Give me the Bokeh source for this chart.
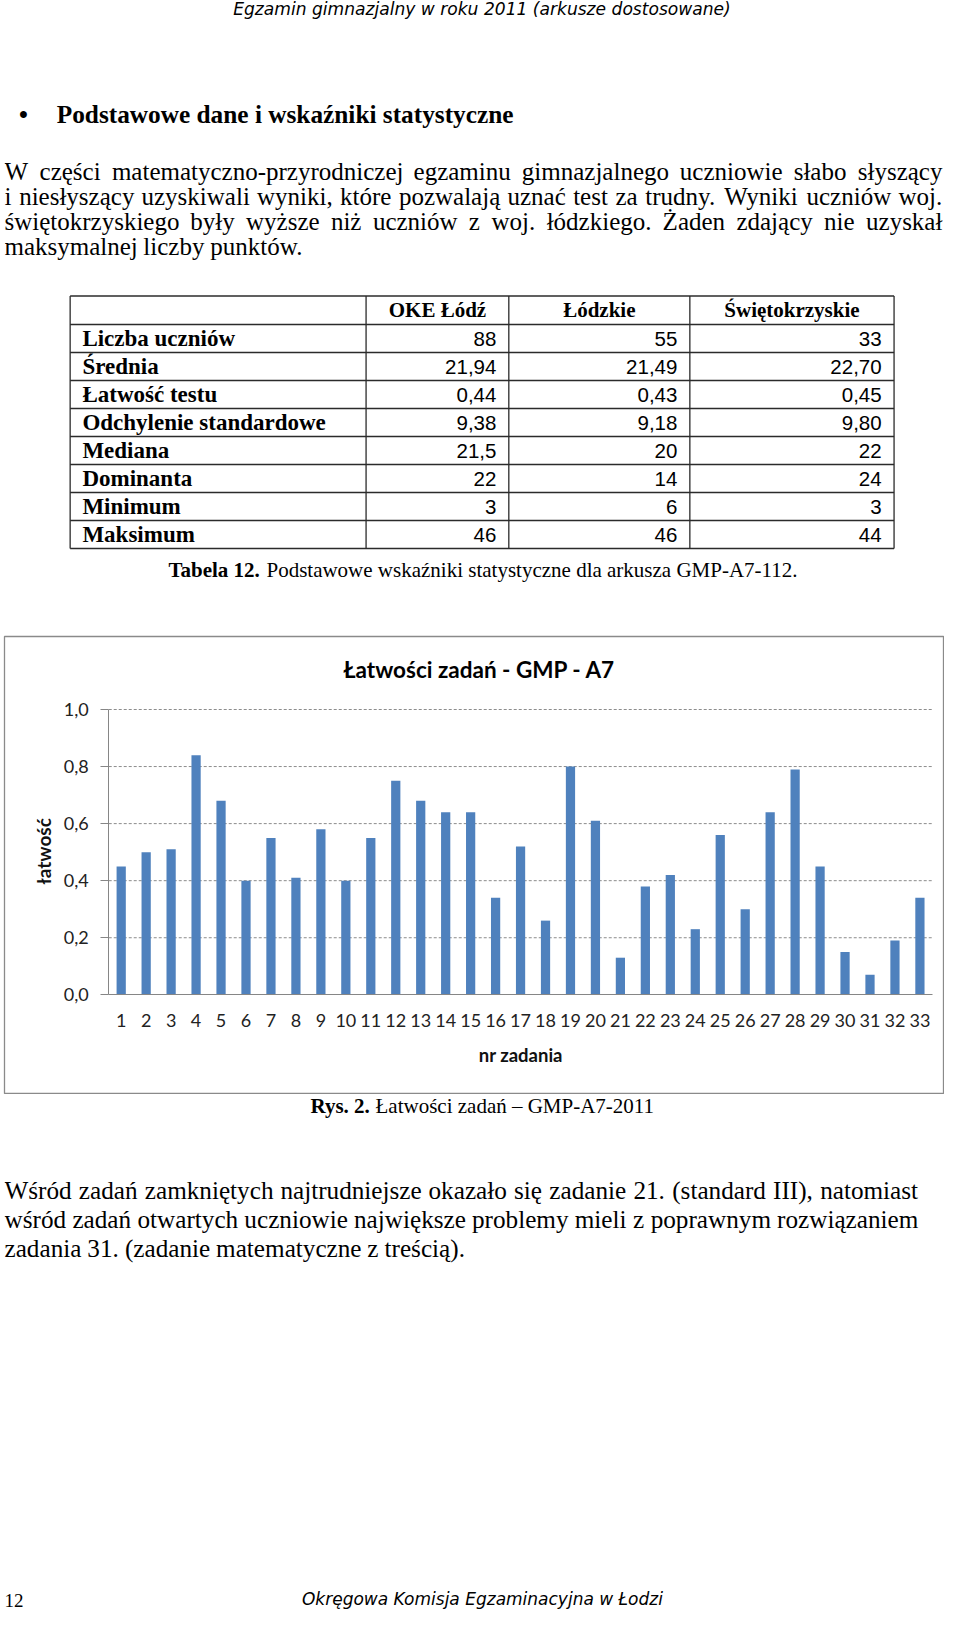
import math
from bokeh.plotting import figure
from bokeh.layouts import column
from bokeh.models import Range1d, LinearAxis, FixedTicker, CustomJSTickFormatter, Label
from bokeh.core.properties import value
from bokeh.embed import file_html
from bokeh.resources import INLINE

# ---------------- data ----------------
tasks = list(range(1, 34))
easiness = [0.45, 0.50, 0.51, 0.84, 0.68, 0.40, 0.55, 0.41, 0.58, 0.40, 0.55,
            0.75, 0.68, 0.64, 0.64, 0.34, 0.52, 0.26, 0.80, 0.61, 0.13, 0.38,
            0.42, 0.23, 0.56, 0.30, 0.64, 0.79, 0.45, 0.15, 0.07, 0.19, 0.34]
y_ticks = [0.0, 0.2, 0.4, 0.6, 0.8, 1.0]

table_headers = ["OKE Łódź", "Łódzkie", "Świętokrzyskie"]
row_labels = ["Liczba uczniów", "Średnia", "Łatwość testu", "Odchylenie standardowe",
              "Mediana", "Dominanta", "Minimum", "Maksimum"]
col_oke = ["88", "21,94", "0,44", "9,38", "21,5", "22", "3", "46"]
col_lodzkie = ["55", "21,49", "0,43", "9,18", "20", "14", "6", "46"]
col_swiet = ["33", "22,70", "0,45", "9,80", "22", "24", "3", "44"]

header_text = "Egzamin gimnazjalny w roku 2011 (arkusze dostosowane)"
heading_text = "Podstawowe dane i wskaźniki statystyczne"
para_top = [
    "W części matematyczno-przyrodniczej egzaminu gimnazjalnego uczniowie słabo słyszący",
    "i niesłyszący uzyskiwali wyniki, które pozwalają uznać test za trudny. Wyniki uczniów woj.",
    "świętokrzyskiego były wyższe niż uczniów z woj. łódzkiego. Żaden zdający nie uzyskał",
    "maksymalnej liczby punktów.",
]
table_caption_bold = "Tabela 12."
table_caption_rest = "Podstawowe wskaźniki statystyczne dla arkusza GMP-A7-112."
chart_title = "Łatwości zadań - GMP - A7"
x_title = "nr zadania"
y_title = "łatwość"
fig_caption_bold = "Rys. 2."
fig_caption_rest = "Łatwości zadań – GMP-A7-2011"
para_bottom = [
    "Wśród zadań zamkniętych najtrudniejsze okazało się zadanie 21. (standard III), natomiast",
    "wśród zadań otwartych uczniowie największe problemy mieli z poprawnym rozwiązaniem",
    "zadania 31. (zadanie matematyczne z treścią).",
]
footer_page = "12"
footer_text = "Okręgowa Komisja Egzaminacyjna w Łodzi"

# ---------------- page geometry ----------------
W, H = 944, 1615
T_CHART = 635
B_CHART = 1094

# Times New Roman metrics (Liberation Serif is metric compatible)
ACC = {'ą': 'a', 'ć': 'c', 'ę': 'e', 'ł': 'l', 'ń': 'n', 'ó': 'o', 'ś': 's', 'ź': 'z', 'ż': 'z',
       'Ą': 'A', 'Ć': 'C', 'Ę': 'E', 'Ł': 'L', 'Ń': 'N', 'Ó': 'O', 'Ś': 'S', 'Ź': 'Z', 'Ż': 'Z'}
REG = {' ': 250, '(': 333, ')': 333, ',': 250, '-': 333, '.': 250, '–': 500, ':': 278,
       'A': 722, 'B': 667, 'C': 667, 'D': 722, 'E': 611, 'F': 556, 'G': 722, 'H': 722, 'I': 333,
       'J': 389, 'K': 722, 'L': 611, 'M': 889, 'N': 722, 'O': 722, 'P': 556, 'Q': 722, 'R': 667,
       'S': 556, 'T': 611, 'U': 722, 'V': 722, 'W': 944, 'X': 722, 'Y': 722, 'Z': 611,
       'a': 444, 'b': 500, 'c': 444, 'd': 500, 'e': 444, 'f': 333, 'g': 500, 'h': 500, 'i': 278,
       'j': 278, 'k': 500, 'l': 278, 'm': 778, 'n': 500, 'o': 500, 'p': 500, 'q': 500, 'r': 333,
       's': 389, 't': 278, 'u': 500, 'v': 500, 'w': 722, 'x': 500, 'y': 500, 'z': 444}
BOLD = {' ': 250, '(': 333, ')': 333, ',': 250, '-': 333, '.': 250, '–': 500,
        'A': 722, 'B': 667, 'C': 722, 'D': 722, 'E': 667, 'F': 611, 'G': 778, 'H': 778, 'I': 389,
        'J': 500, 'K': 778, 'L': 667, 'M': 944, 'N': 722, 'O': 778, 'P': 611, 'Q': 778, 'R': 722,
        'S': 556, 'T': 667, 'U': 722, 'V': 722, 'W': 1000, 'X': 722, 'Y': 722, 'Z': 667,
        'a': 500, 'b': 556, 'c': 444, 'd': 556, 'e': 444, 'f': 333, 'g': 500, 'h': 556, 'i': 278,
        'j': 333, 'k': 556, 'l': 278, 'm': 833, 'n': 556, 'o': 500, 'p': 556, 'q': 556, 'r': 444,
        's': 389, 't': 333, 'u': 556, 'v': 500, 'w': 722, 'x': 500, 'y': 500, 'z': 444}


def tw(s, tbl):
    return sum(tbl.get(ACC.get(c, c), 500) for c in s) / 1000.0


SERIF = "Liberation Serif"
SANS = "Liberation Sans"


def page_fig(height):
    p = figure(width=W, height=height, x_range=Range1d(0, W), y_range=Range1d(height, 0),
               output_backend="svg", toolbar_location=None, min_border=0,
               x_axis_type=None, y_axis_type=None, outline_line_color=None)
    p.background_fill_color = "white"
    p.border_fill_color = "white"
    return p


def put(p, off, xs, ys, texts, font, size, style="normal", align="left",
        baseline="middle", color="#000000"):
    p.text(x=list(xs), y=[v - off for v in ys], text=texts,
           text_font=value(font), text_font_size=value("%.2fpx" % size),
           text_font_style=style, text_align=align, text_baseline=baseline,
           text_color=color)


def para_line(p, off, line, y, size, left, right, justify):
    words = line.split()
    ws = [tw(w, REG) * size for w in words]
    if justify and len(words) > 1:
        gap = (right - left - sum(ws)) / (len(words) - 1)
    else:
        gap = 0.25 * size
    xs = []
    x = left
    for w in ws:
        xs.append(x)
        x += w + gap
    put(p, off, xs, [y] * len(words), words, SERIF, size)


def mixed_caption(p, off, bold, rest, cx, y, size):
    wb = tw(bold, BOLD) * size
    wsp = 0.25 * size
    wr = tw(rest, REG) * size
    x0 = cx - (wb + wsp + wr) / 2.0
    put(p, off, [x0], [y], [bold], SERIF, size, style="bold")
    put(p, off, [x0 + wb + wsp], [y], [rest], SERIF, size)


# ---------------- top part: text + table ----------------
top = page_fig(T_CHART)
OT = 0

put(top, OT, [480], [8.5], [header_text], "DejaVu Sans", 17.1, style="italic", align="center")
put(top, OT, [19], [113.5], ["•"], SERIF, 25.3, style="bold", align="center")
put(top, OT, [52.5], [113.5], [heading_text], SERIF, 25.3, style="bold")

for i, line in enumerate(para_top):
    para_line(top, OT, line, 171.0 + 24.85 * i, 25.0, 0, 942.5, i < len(para_top) - 1)

# table geometry
t_left, t_right = 66.0, 894.3
col_edges = [t_left, 363.5, 507.0, 689.0, t_right]
t_top, t_head = 295.5, 324.0
row_h = 28.0
n_rows = len(row_labels)
h_lines = [t_top, t_head] + [t_head + row_h * (i + 1) for i in range(n_rows)]
top.segment(x0=[t_left] * len(h_lines), x1=[t_right] * len(h_lines),
            y0=[v - OT for v in h_lines], y1=[v - OT for v in h_lines],
            line_color="#2b2b2b", line_width=1.3)
top.segment(x0=col_edges, x1=col_edges,
            y0=[t_top - OT] * 5, y1=[h_lines[-1] - OT] * 5,
            line_color="#2b2b2b", line_width=1.3)

head_cy = (t_top + t_head) / 2.0
put(top, OT, [(col_edges[i + 1] + col_edges[i + 2]) / 2.0 for i in range(3)], [head_cy] * 3,
    table_headers, SERIF, 21, style="bold", align="center")
row_cy = [t_head + row_h * (i + 0.5) for i in range(n_rows)]
put(top, OT, [78.3] * n_rows, row_cy, row_labels, SERIF, 23, style="bold")
for ci, col in enumerate([col_oke, col_lodzkie, col_swiet]):
    put(top, OT, [col_edges[ci + 2] - 12.5] * n_rows, row_cy, col, SANS, 20.5, align="right")

mixed_caption(top, OT, table_caption_bold, table_caption_rest, 480, 569.5, 21)

# ---------------- chart ----------------
CH = B_CHART - T_CHART


# page mapping of the chart: task k -> x = 95.74 + 24.96 k ; value v -> y = 994.3 - 285.3 v
def k_of(px):
    return (px - 95.74) / 24.96


def v_of(py):
    return (994.3 - py) / 285.3


chart = figure(width=W, height=CH, x_range=Range1d(k_of(4), k_of(W - 1)),
               y_range=Range1d(v_of(B_CHART - 1), v_of(T_CHART + 1)),
               output_backend="svg", toolbar_location=None,
               x_axis_type=None, y_axis_type=None,
               min_border_left=4, min_border_right=1, min_border_top=1, min_border_bottom=1)
chart.outline_line_color = "#8a8a8a"
chart.outline_line_width = 1.3
chart.background_fill_color = "white"
chart.border_fill_color = "white"

n_g = len(y_ticks) - 1
chart.segment(x0=[0.5] * n_g, x1=[33.5] * n_g, y0=y_ticks[1:], y1=y_ticks[1:],
              line_color="#8c8c8c", line_dash="3 2", line_width=1)
chart.vbar(x=tasks, top=easiness, bottom=0, width=0.37, fill_color="#4F81BD", line_color=None)

yax = LinearAxis(fixed_location=0.5, bounds=(0, 1),
                 ticker=FixedTicker(ticks=y_ticks),
                 formatter=CustomJSTickFormatter(code="return tick.toFixed(1).replace('.', ',')"))
yax.axis_line_color = "#868686"
yax.major_tick_line_color = "#868686"
yax.major_tick_out = 8
yax.major_tick_in = 0
yax.minor_tick_line_color = None
yax.major_label_standoff = 12
yax.major_label_text_font = "Lato"
yax.major_label_text_font_size = "18px"
yax.major_label_text_color = "#222222"
chart.add_layout(yax, "left")

xax = LinearAxis(fixed_location=0, bounds=(0.5, 33.5), ticker=FixedTicker(ticks=tasks))
xax.axis_line_color = "#868686"
xax.major_tick_out = 0
xax.major_tick_in = 0
xax.minor_tick_line_color = None
xax.major_label_standoff = 19
xax.major_label_text_font = "Lato"
xax.major_label_text_font_size = "18px"
xax.major_label_text_color = "#222222"
chart.add_layout(xax, "below")

chart.add_layout(Label(x=k_of(479), y=v_of(668.5), text=chart_title, text_align="center",
                       text_baseline="middle", text_font="Lato", text_font_style="bold",
                       text_font_size="22.5px", text_color="#000000"))
chart.add_layout(Label(x=k_of(520.3), y=v_of(1054), text=x_title, text_align="center",
                       text_baseline="middle", text_font="Lato", text_font_style="bold",
                       text_font_size="18.5px", text_color="#111111"))
chart.add_layout(Label(x=k_of(43.3), y=v_of(850.8), text=y_title, angle=math.pi / 2,
                       text_align="center", text_baseline="middle", text_font="Lato",
                       text_font_style="bold", text_font_size="19px", text_color="#111111"))

# ---------------- bottom part ----------------
bottom = page_fig(H - B_CHART)
OB = B_CHART
mixed_caption(bottom, OB, fig_caption_bold, fig_caption_rest, 480, 1105.5, 21)
for i, line in enumerate(para_bottom):
    para_line(bottom, OB, line, 1190 + 28.8 * i, 25.2, 0, 918, i < len(para_bottom) - 1)
put(bottom, OB, [0], [1600], [footer_page], SERIF, 19, baseline="alphabetic")
put(bottom, OB, [480.5], [1598], [footer_text], "DejaVu Sans", 17, style="italic",
    align="center", baseline="alphabetic")

layout = column(top, chart, bottom, spacing=0)
open("out.html", "w").write(file_html(layout, INLINE))
